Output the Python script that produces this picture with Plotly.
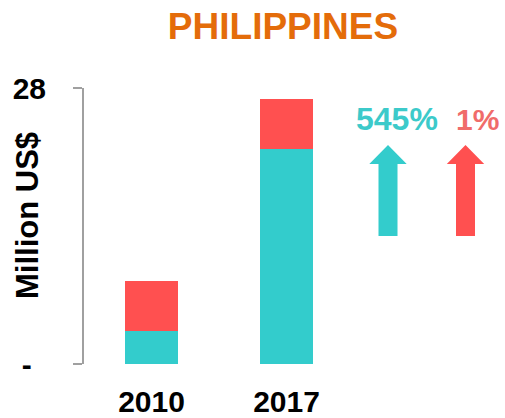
import plotly.graph_objects as go

years = ["2010", "2017"]
teal_vals = [3.38, 21.8]
red_vals = [5.0, 5.05]
y_tickvals = [0, 28]
y_ticktext = ["-\u00a0\u2009", "28"]
pct_labels = ["545%", "1%"]

TEAL = "#33CCCC"
RED = "#FF5050"
FONT = "Liberation Sans, Arial, sans-serif"

W, H = 505, 418
L, R, T, B = 84, 151, 88, 54
pw, ph = W - L - R, H - T - B

def px(x):
    return (x - L) / pw

def py(y):
    return (H - B - y) / ph

fig = go.Figure()
fig.add_bar(x=years, y=teal_vals, marker_color=TEAL, marker_line_width=0, name="teal",
            hoverinfo="skip")
fig.add_bar(x=years, y=red_vals, marker_color=RED, marker_line_width=0, name="red",
            hoverinfo="skip")

def arrow(cx, top, hb, bottom, hw, sw, color):
    p = (f"M {px(cx)} {py(top)} L {px(cx+hw)} {py(hb)} L {px(cx+sw)} {py(hb)} "
         f"L {px(cx+sw)} {py(bottom)} L {px(cx-sw)} {py(bottom)} L {px(cx-sw)} {py(hb)} "
         f"L {px(cx-hw)} {py(hb)} Z")
    return dict(type="path", path=p, xref="paper", yref="paper",
                fillcolor=color, line=dict(width=0), layer="above")

shapes = [
    arrow(388, 145, 164, 236, 18.7, 9.5, TEAL),
    arrow(465.5, 145, 164, 236, 18.7, 9.5, RED),
]

annotations = [
    dict(text="Million US$", x=px(27), y=py(216), xref="paper", yref="paper",
         textangle=-90, showarrow=False, xanchor="center", yanchor="middle",
         font=dict(family=FONT, size=31, color="black", weight="bold")),
    dict(text=pct_labels[0], x=px(396.5), y=py(119), xref="paper", yref="paper",
         showarrow=False, xanchor="center", yanchor="middle",
         font=dict(family=FONT, size=32, color="#3CCACA", weight="bold")),
    dict(text=pct_labels[1], x=px(477), y=py(119), xref="paper", yref="paper",
         showarrow=False, xanchor="center", yanchor="middle",
         font=dict(family=FONT, size=30, color="#F06C6A", weight="bold")),
]

fig.update_layout(
    width=W, height=H,
    barmode="stack", bargap=0.607, showlegend=False,
    margin=dict(l=L, r=R, t=T, b=B, pad=0, autoexpand=False),
    plot_bgcolor="white", paper_bgcolor="white",
    title=dict(text="PHILIPPINES", x=283 / W, xanchor="center", y=1 - 26 / H, yanchor="middle",
               font=dict(family=FONT, size=37, color="#E46C0A", weight="bold")),
    shapes=shapes, annotations=annotations,
    xaxis=dict(type="category", range=[-0.5, 1.5], showline=False, ticks="",
               showgrid=False, zeroline=False, ticklabelstandoff=17, automargin=False,
               tickfont=dict(family=FONT, size=30, color="black", weight="bold")),
    yaxis=dict(range=[0, 28], tickvals=y_tickvals, ticktext=y_ticktext,
               showline=True, linecolor="#A0A0A0", linewidth=2,
               ticks="outside", ticklen=9, tickwidth=2, tickcolor="#A0A0A0",
               showgrid=False, zeroline=False, ticklabelstandoff=21, automargin=False,
               tickfont=dict(family=FONT, size=30, color="black", weight="bold")),
)

fig.write_html("out.html", config={"displayModeBar": False},
               post_script="document.body.style.margin='0';document.body.style.padding='0';")
